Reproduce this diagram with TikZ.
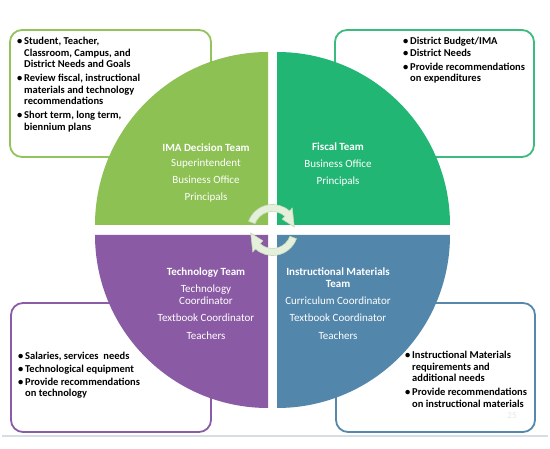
\documentclass[tikz,border=0pt]{standalone}
\usepackage{fontspec}
\setmainfont{Carlito}
\usetikzlibrary{calc}
\definecolor{qgreen}{HTML}{8DC153}
\definecolor{qteal}{HTML}{22B674}
\definecolor{qpurple}{HTML}{8A5AA4}
\definecolor{qblue}{HTML}{5286AB}
\definecolor{bgreen}{HTML}{92C35C}
\definecolor{bteal}{HTML}{3DBA7E}
\definecolor{bpurple}{HTML}{8B5CA6}
\definecolor{bblue}{HTML}{5588AC}
\definecolor{arrowfill}{HTML}{E4EFDC}
\definecolor{arrowline}{HTML}{C4D9B2}
\definecolor{rulegray}{HTML}{D5DEE3}
\definecolor{pagegray}{HTML}{E3E8EB}
\newcommand\bx{\textbullet}
\newenvironment{bxlist}{\begin{tabular}[t]{@{}p{7pt}@{}l@{}}}{\end{tabular}}
\tikzset{
  infobox/.style={draw=#1, line width=1.8pt, fill=white, rounded corners=12pt},
  quad/.style={fill=#1},
  boxtext/.style={anchor=base west, inner sep=0pt,
    font=\fontsize{10.5}{11.3}\selectfont\bfseries},
  teamtext/.style={anchor=base, inner sep=0pt, align=center, text=white,
    font=\fontsize{11}{12}\selectfont},
  cyc/.style={fill=arrowfill, draw=arrowline, line width=0.6pt}
}
\begin{document}
\begin{tikzpicture}[x=1pt,y=1pt]
\useasboundingbox (0,0) rectangle (550,449);
\fill[white] (0,0) rectangle (550,449);
% bottom rule
\draw[rulegray, line width=1.5pt] (2,13) -- (548,13);
% info boxes
\draw[infobox=bgreen] (10,292) rectangle (211,419);
\draw[infobox=bteal] (335,292) rectangle (534,419);
\draw[infobox=bpurple] (11,17) rectangle (211,146);
\draw[infobox=bblue] (336,17) rectangle (535,146);
% quadrants
\fill[quad=qgreen] (268,224) -- ++(0,173) arc[start angle=90, end angle=180, radius=173] -- cycle;
\fill[quad=qteal] (277,224) -- ++(173,0) arc[start angle=0, end angle=90, radius=173] -- cycle;
\fill[quad=qpurple] (268,214) -- ++(-173,0) arc[start angle=180, end angle=270, radius=173] -- cycle;
\fill[quad=qblue] (277,214) -- ++(0,-173) arc[start angle=270, end angle=360, radius=173] -- cycle;
% center cycle arrows
\coordinate (ctr) at (272.5,219);
\path[cyc] ($(ctr)+(160:25.5)$) arc[start angle=160, end angle=48, radius=25.5]
  -- ($(ctr)+(48:29.5)$) -- ($(ctr)+(8:22)$) -- ($(ctr)+(48:14.5)$)
  -- ($(ctr)+(48:18.5)$) arc[start angle=48, end angle=160, radius=18.5] -- cycle;
\path[cyc] ($(ctr)+(340:25.5)$) arc[start angle=340, end angle=228, radius=25.5]
  -- ($(ctr)+(228:29.5)$) -- ($(ctr)+(188:22)$) -- ($(ctr)+(228:14.5)$)
  -- ($(ctr)+(228:18.5)$) arc[start angle=228, end angle=340, radius=18.5] -- cycle;
% team texts (anchor base = last line)
\node[teamtext] (ima) at (206,248) {\textbf{IMA Decision Team}\\[3pt] Superintendent\\[5pt] Business Office\\[5pt] Principals};
\node[teamtext] (fiscal) at (338,264) {\textbf{Fiscal Team}\\[5.3pt] Business Office\\[5pt] Principals};
\node[teamtext] (tech) at (206,109) {\textbf{Technology Team}\\[5.3pt] Technology\\ Coordinator\\[5pt] Textbook Coordinator\\[6pt] Teachers};
\node[teamtext] (instr) at (338,109) {\textbf{Instructional Materials}\\ \textbf{Team}\\[5pt] Curriculum Coordinator\\[5pt] Textbook Coordinator\\[6pt] Teachers};
% box texts
\node[boxtext] (tltext) at (17,404) {\begin{bxlist}
\bx & Student, Teacher,\\ & Classroom, Campus, and\\ & District Needs and Goals\\[3pt]
\bx & Review fiscal, instructional\\ & materials and technology\\ & recommendations\\[3pt]
\bx & Short term, long term,\\ & biennium plans
\end{bxlist}};
\node[boxtext] (trtext) at (403,404) {\begin{bxlist}
\bx & District Budget/IMA\\
\bx & District Needs\\[2.5pt]
\bx & Provide recommendations\\ & on expenditures
\end{bxlist}};
\node[boxtext] (bltext) at (18,89) {\begin{bxlist}
\bx & Salaries, services\ \ needs\\[1pt]
\bx & Technological equipment\\[1.5pt]
\bx & Provide recommendations\\ & on technology
\end{bxlist}};
\node[boxtext] (brtext) at (405,90) {\begin{bxlist}
\bx & Instructional Materials\\ & requirements and\\ & additional needs\\[3pt]
\bx & Provide recommendations\\ & on instructional materials
\end{bxlist}};
\node[anchor=base, inner sep=0pt, text=pagegray, font=\fontsize{9}{10}\selectfont] (page) at (512,30) {25};
\end{tikzpicture}
\end{document}
